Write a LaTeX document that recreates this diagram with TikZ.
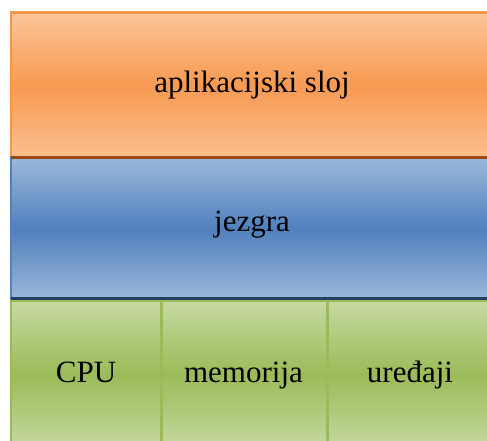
\documentclass[tikz,border=0pt]{standalone}
\usepackage{fontspec}
\setmainfont{Liberation Serif}[Ligatures=TeX]
\definecolor{orL}{HTML}{FBC597}
\definecolor{orM}{HTML}{F79A52}
\definecolor{orB}{HTML}{F79646}
\definecolor{orS}{HTML}{984807}
\definecolor{blL}{HTML}{9BB7DA}
\definecolor{blM}{HTML}{4F81BD}
\definecolor{blB}{HTML}{4F81BD}
\definecolor{blS}{HTML}{243F60}
\definecolor{grL}{HTML}{C6D9A0}
\definecolor{grM}{HTML}{9BBB59}
\definecolor{grB}{HTML}{9BBB59}
\tikzset{
  layer/.style={rectangle, anchor=north west, line width=2.5pt, inner sep=0pt},
  orangebox/.style={layer, draw=orB, top color=orL, bottom color=orL!85!orM, middle color=orM},
  bluebox/.style={layer, draw=blB, top color=blL, bottom color=blL, middle color=blM},
  greenbox/.style={layer, draw=grB, top color=grL, bottom color=grL, middle color=grM},
  label/.style={anchor=base, inner sep=0pt, font=\rmfamily\fontsize{31}{36}\selectfont, text=black},
  shadowline/.style={line width=3pt}
}
\begin{document}
\begin{tikzpicture}[x=1pt,y=1pt]
\useasboundingbox (0,0) rectangle (487,441);
\clip (0,0) rectangle (487,441);
\node[orangebox, minimum width=486pt, minimum height=145pt] (app) at (9.5,429.5) {};
\node[bluebox, minimum width=486pt, minimum height=142pt] (kern) at (9.5,284.5) {};
\node[greenbox, minimum width=150.5pt, minimum height=148pt] (cpu) at (9.5,141.5) {};
\node[greenbox, minimum width=166pt, minimum height=148pt] (mem) at (160,141.5) {};
\node[greenbox, minimum width=170pt, minimum height=148pt] (dev) at (326,141.5) {};
\coordinate (s1) at (11,283.5);
\coordinate (s2) at (11,142.5);
\draw[shadowline, draw=orS] (s1) -- (s1 -| app.east);
\draw[shadowline, draw=blS] (s2) -- (s2 -| kern.east);
\node[label] (tapp) at (252,348) {aplikacijski sloj};
\node[label] (tkern) at (252,209) {jezgra};
\node[label] (tcpu) at (86,58) {CPU};
\node[label] (tmem) at (243.5,58) {memorija};
\node[label] (tdev) at (410,58) {uređaji};
\end{tikzpicture}
\end{document}
